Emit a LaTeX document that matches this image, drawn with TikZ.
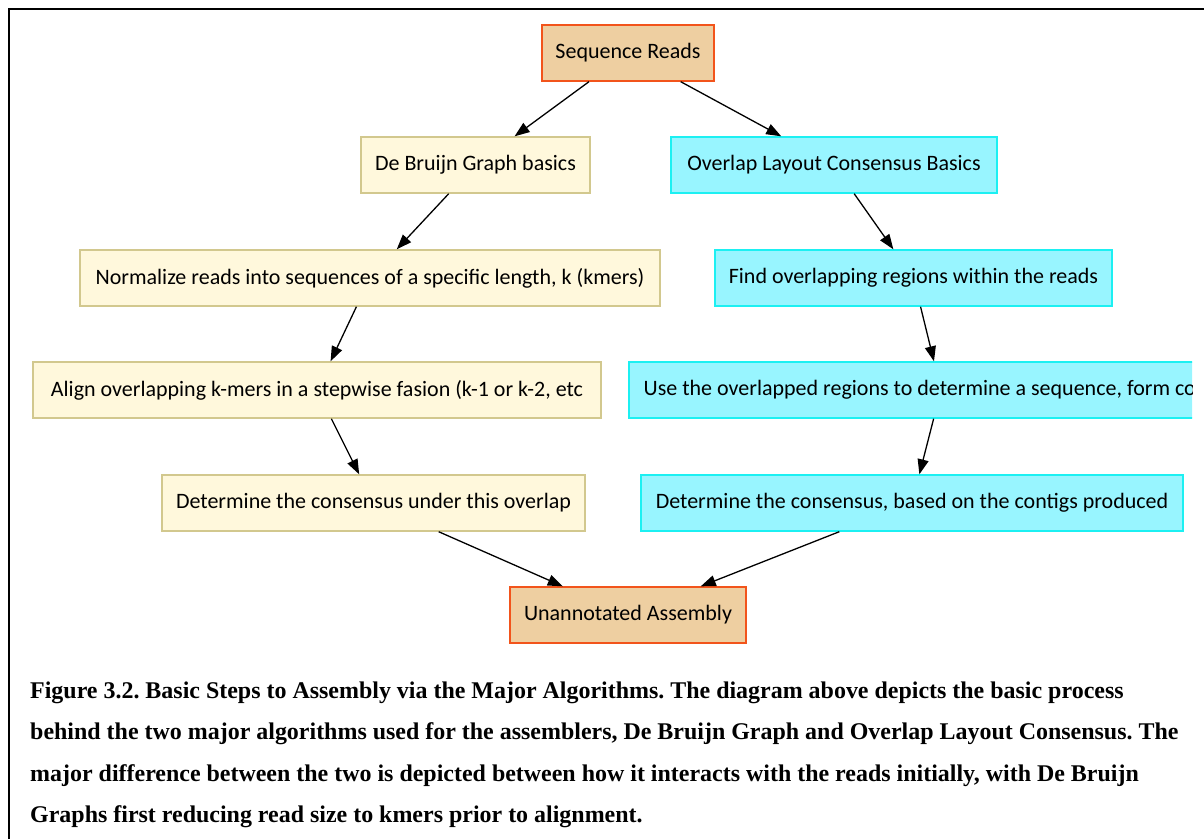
\documentclass[tikz,border=0pt]{standalone}
\usepackage{fontspec}
\setmainfont{Liberation Serif}
\newfontfamily\boxfont{Carlito}
\usetikzlibrary{arrows.meta}
\frenchspacing

\definecolor{endfill}{HTML}{EECFA1}
\definecolor{enddraw}{HTML}{F2541B}
\definecolor{dbgfill}{HTML}{FFF8DC}
\definecolor{dbgdraw}{HTML}{D2C88E}
\definecolor{olcfill}{HTML}{98F5FF}
\definecolor{olcdraw}{HTML}{1CF0F2}

\begin{document}
\begin{tikzpicture}[x=1pt, y=-1pt,
    box/.style={rectangle, inner sep=0pt, minimum height=56pt, line width=1.4pt,
      font=\boxfont\fontsize{22}{24}\selectfont},
    ends/.style={box, fill=endfill, draw=enddraw},
    dbgbox/.style={box, fill=dbgfill, draw=dbgdraw},
    olcbox/.style={box, fill=olcfill, draw=olcdraw},
    arr/.style={-{Triangle[length=15pt, width=11pt]}, line width=1.3pt},
    captionline/.style={anchor=base west, inner sep=0pt,
      font=\bfseries\fontsize{23.95}{26}\selectfont}]
    \useasboundingbox (0,0) rectangle (1204,839);
    % frame
    \draw[line width=2.5pt] (9,839) -- (9,9) -- (1204,9);

    \begin{scope}
    \clip (0,12) rectangle (1192,660);
    \node[ends, minimum width=172pt] (reads) at (628,53) {Sequence Reads};

    % De Bruijn side
    \node[dbgbox, minimum width=229pt] (dbg) at (475.5,165) {De Bruijn Graph basics};
    \node[dbgbox, minimum width=580pt] (norm) at (370,278) {Normalize reads into sequences of a specific length, k (kmers)};
    \node[dbgbox, minimum width=568pt] (align) at (317,390) {Align overlapping k-mers in a stepwise fasion (k-1 or k-2, etc};
    \node[dbgbox, minimum width=423pt] (dbgcons) at (373.5,503) {Determine the consensus under this overlap};

    % overlap layout consensus side
    \node[olcbox, minimum width=326pt] (olc) at (834,165) {Overlap Layout Consensus Basics};
    \node[olcbox, minimum width=397pt] (find) at (913.5,278) {Find overlapping regions within the reads};
    \node[olcbox, minimum width=624pt] (contig) at (941,390) {Use the overlapped regions to determine a sequence, form contigs};
    \node[olcbox, minimum width=542pt] (olccons) at (912,503) {Determine the consensus, based on the contigs produced};

    \node[ends, minimum width=236pt] (asm) at (628,615) {Unannotated Assembly};

    \draw[arr] (reads) -- (dbg);
    \draw[arr] (reads) -- (olc);
    \draw[arr] (dbg) -- (norm);
    \draw[arr] (norm) -- (align);
    \draw[arr] (align) -- (dbgcons);
    \draw[arr] (olc) -- (find);
    \draw[arr] (find) -- (contig);
    \draw[arr] (contig) -- (olccons);
    \draw[arr] (dbgcons) -- (asm);
    \draw[arr] (olccons) -- (asm);
    \end{scope}

    % caption
    \node[captionline] (cap1) at (30,698) {Figure 3.2. Basic Steps to Assembly via the Major Algorithms. The diagram above depicts the basic process};
    \node[captionline] (cap2) at (30,739.5) {behind the two major algorithms used for the assemblers, De Bruijn Graph and Overlap Layout Consensus. The};
    \node[captionline] (cap3) at (30,781) {major difference between the two is depicted between how it interacts with the reads initially, with De Bruijn};
    \node[captionline] (cap4) at (30,822.5) {Graphs first reducing read size to kmers prior to alignment.};
\end{tikzpicture}
\end{document}
